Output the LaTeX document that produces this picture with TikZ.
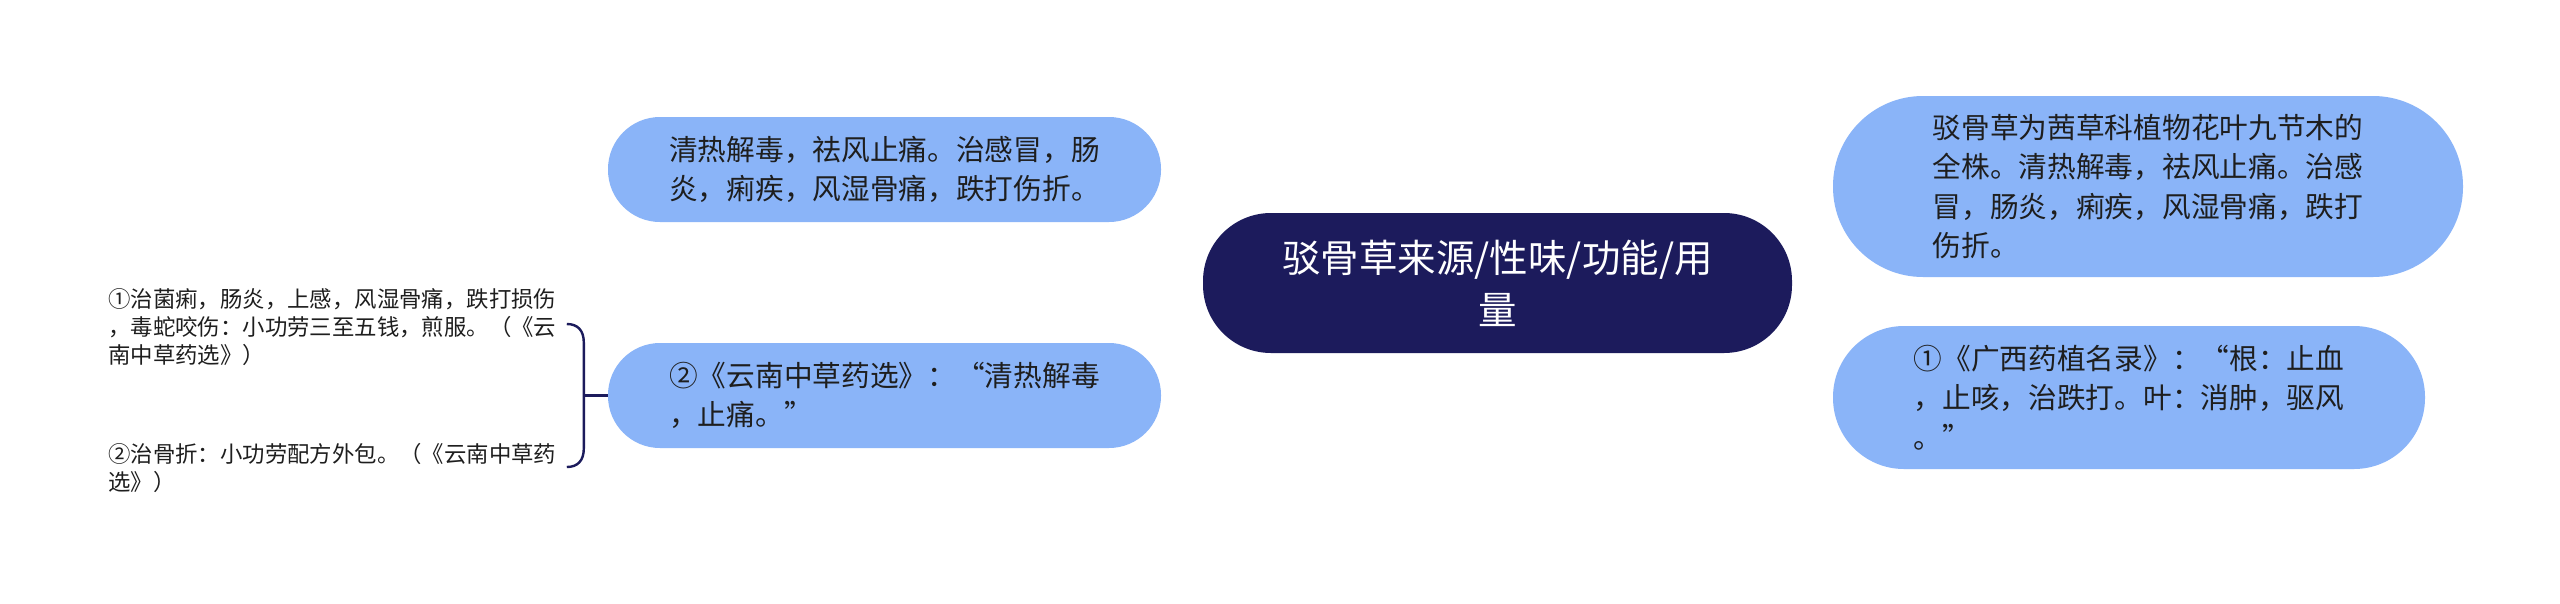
\documentclass[tikz,border=0pt]{standalone}
\usepackage{fontspec}
\setmainfont{Noto Sans CJK SC}
\usetikzlibrary{calc,backgrounds}
\definecolor{navy}{HTML}{1C1B5C}
\definecolor{leafblue}{HTML}{8AB4F8}
\definecolor{ink}{HTML}{1E1E1E}
\begin{document}
\begin{tikzpicture}[x=1pt,y=-1pt,
  root/.style={fill=navy, text=white, rounded corners=68pt, minimum width=589pt, minimum height=140pt, align=center, font=\fontsize{38.5}{52}\selectfont, inner sep=0pt},
  topic/.style={fill=leafblue, text=ink, align=left, font=\fontsize{28.7}{39.5}\selectfont, inner sep=0pt},
  leaf/.style={text=ink, align=left, font=\fontsize{22.4}{28}\selectfont, inner sep=0pt, anchor=west},
  link/.style={draw=navy, line width=2.4pt},
]
\fill[white] (0,0) rectangle (2560,603);
\useasboundingbox (0,0) rectangle (2560,603);

\node[root] (c) at (1497.5,283) {驳骨草来源/性味/功能/用\\量};
\node[topic, minimum width=553pt, minimum height=105pt, rounded corners=52pt] (tl) at (884.5,169.5) {清热解毒，祛风止痛。治感冒，肠\\炎，痢疾，风湿骨痛，跌打伤折。};
\node[topic, minimum width=553pt, minimum height=105pt, rounded corners=52pt] (bl) at (884.5,395.5) {②《云南中草药选》：“清热解毒\\，止痛。”};
\node[topic, minimum width=630pt, minimum height=181pt, rounded corners=90pt] (tr) at (2148,186.5) {驳骨草为茜草科植物花叶九节木的\\全株。清热解毒，祛风止痛。治感\\冒，肠炎，痢疾，风湿骨痛，跌打\\伤折。};
\node[topic, minimum width=592pt, minimum height=143pt, rounded corners=71pt] (br) at (2129,397.5) {①《广西药植名录》：“根：止血\\，止咳，治跌打。叶：消肿，驱风\\。”};

\node[leaf] (l1) at (108,327) {①治菌痢，肠炎，上感，风湿骨痛，跌打损伤\\，毒蛇咬伤：小功劳三至五钱，煎服。（《云\\南中草药选》）};
\node[leaf] (l2) at (108,468) {②治骨折：小功劳配方外包。（《云南中草药\\选》）};

\begin{scope}[on background layer]
\draw[link] (c.center) .. controls +(-48,-83) and +(183,0) .. (tl.east);
\draw[link] (c.center) .. controls +(-48,83) and +(183,0) .. (bl.east);
\draw[link] (c.center) .. controls +(48,-78) and +(-183,0) .. (tr.west);
\draw[link] (c.center) .. controls +(48,78) and +(-183,0) .. (br.west);
\end{scope}

\coordinate (bk) at ($(bl.west)+(-24,0)$);
\coordinate (btop) at ($(bk)+(-17,-71.5)$);
\coordinate (bbot) at ($(bk)+(-17,71.5)$);
\draw[link] (bl.west) -- (bk);
\draw[link] (btop) .. controls +(11,0) and +(0,-12) .. ($(bk)+(0,-53)$) -- ($(bk)+(0,53)$) .. controls +(0,12) and +(11,0) .. (bbot);
\end{tikzpicture}
\end{document}
